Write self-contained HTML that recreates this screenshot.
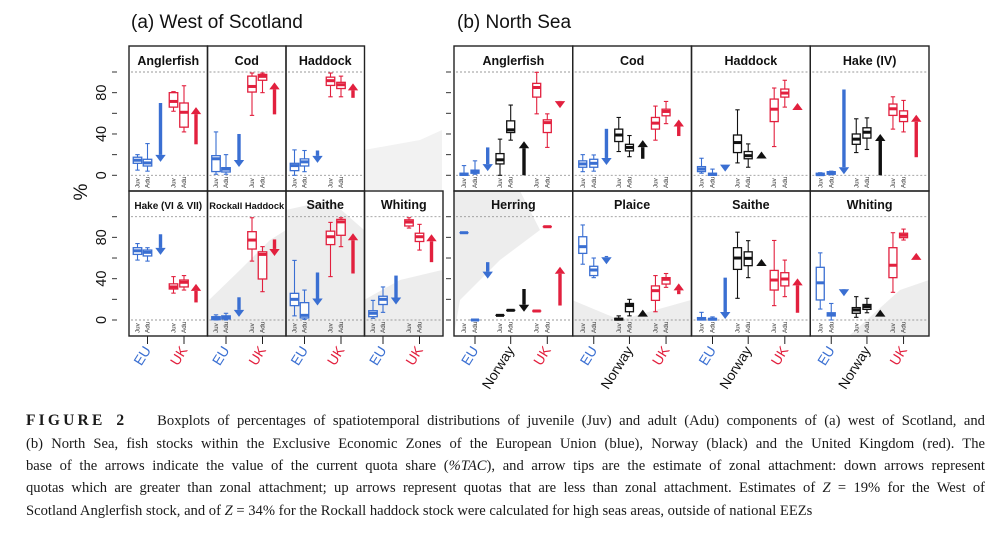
<!DOCTYPE html>
<html><head><meta charset="utf-8">
<style>
html,body{margin:0;padding:0;background:#fff;}
body{width:999px;height:535px;overflow:hidden;position:relative;font-family:"Liberation Sans",sans-serif;}
#fig{position:absolute;left:0;top:0;}
.cap{position:absolute;left:26px;width:959px;font-family:"Liberation Serif",serif;font-size:14.6px;color:#1a1a1a;white-space:nowrap;line-height:18px;}
.j{text-align:justify;text-align-last:justify;white-space:normal;}
.fig2{font-weight:bold;letter-spacing:3.2px;font-size:15.5px;}
</style></head>
<body>
<svg id="fig" width="999" height="400" viewBox="0 0 999 400" xmlns="http://www.w3.org/2000/svg">
<g id="bg" fill="#ededed">
<path d="M209 300 L240 270 L270 240 L286 230 L286 335 L209 335 Z"/>
<path d="M286 210 L330 200 L364 230 L364 335 L286 335 Z"/>
<path d="M364 300 L400 280 L442 270 L442 335 L364 335 Z"/>
<path d="M454 191 L520 191 L540 230 L500 260 L460 300 L454 335 Z"/>
<path d="M572 300 L620 320 L691 300 L691 335 L572 335 Z"/>
<path d="M850 335 L900 290 L929 280 L929 335 Z"/>
<path d="M364 150 L420 140 L442 130 L442 190 L364 190 Z" fill="#f2f2f2"/>
</g>
<g id="layer"></g>
<text x="131" y="28" font-size="19" fill="#111">(a) West of Scotland</text>
<text x="457" y="28" font-size="19" fill="#111">(b) North Sea</text>
<text transform="translate(87,192) rotate(-90)" text-anchor="middle" font-size="19" fill="#111">%</text>
</svg>

<div class="cap j" style="top:412px"><span class="fig2">FIGURE 2</span>&nbsp;&nbsp;&nbsp; Boxplots of percentages of spatiotemporal distributions of juvenile (Juv) and adult (Adu) components of (a) west of Scotland, and</div>
<div class="cap j" style="top:435px">(b) North Sea, fish stocks within the Exclusive Economic Zones of the European Union (blue), Norway (black) and the United Kingdom (red). The</div>
<div class="cap j" style="top:457px">base of the arrows indicate the value of the current quota share (<i>%TAC</i>), and arrow tips are the estimate of zonal attachment: down arrows represent</div>
<div class="cap j" style="top:479px">quotas which are greater than zonal attachment; up arrows represent quotas that are less than zonal attachment. Estimates of <i>Z</i> = 19% for the West of</div>
<div class="cap" style="top:502px">Scotland Anglerfish stock, and of <i>Z</i> = 34% for the Rockall haddock stock were calculated for high seas areas, outside of national EEZs</div>

<script>
// ---- data ----
const panelTitles = ["Anglerfish","Cod","Haddock","Hake (VI & VII)","Rockall Haddock","Saithe","Whiting",
  "Anglerfish","Cod","Haddock","Hake (IV)","Herring","Plaice","Saithe","Whiting"];
const panelRegion = ["wos","wos","wos","wos","wos","wos","wos","ns","ns","ns","ns","ns","ns","ns","ns"];
const wosCountries = ["EU","UK"];
const nsCountries = ["EU","Norway","UK"];
const stages = ["Juv","Adu"];
const whiskerLow = [
 [5,4,62,42],[1,1,58,80],[0,3.5,76,76],[58,57,26,29],[0,0,57,27.4],[4,0.6,42,71],[1.6,7.4,89,67.7],
 [0,1,0,34,59.5,27],[3.5,4,23,18,34,50],[2,0,12,7.8,27.8,66],[0,0.5,22,25,44.7,42],
 [84.5,0,4.5,9.4,8.7,90.3],[54,41,0,4,8,31.6],[0,0,21,41,13.9,22.6],[10.6,0,2.6,7,26.8,77.4]];
const q1 = [
 [11.6,9,66,46.6],[3.6,3.2,80.6,92],[4.5,9,87,84],[63.5,62,30,32],[0.3,1,68.7,39.7],[13.9,2,73,82],[3.2,15,91,76],
 [0,2,11,41.4,75.7,41.4],[7.8,7.8,32.7,23.6,44.7,57.6],[3.6,0,22,16,52,75.7],[0,1,30,36,58,52],
 [84.5,0,4.5,9.4,8.7,90.3],[64.5,43,0,8,19,34.8],[0,0,49,52.6,29,33],[19.4,3.9,6.5,10.3,41,79.7]];
const median = [
 [14.6,12,71.5,61],[16,6,86,95.8],[9.4,13,91.6,87.7],[67,65.5,32,36.5],[1.6,2.3,77.4,63.5],[20,4.5,80.6,95],[6.5,20,94.8,80.6],
 [1,3.5,15,44,85,51],[11,11.6,39,27,50.5,61.8],[6,1,31.7,19,64,79.6],[0.6,2.6,35,41.7,64.4,57],
 [84.5,0,4.5,9.4,8.7,90.3],[71,48.4,0.8,14,28.4,39.4],[1,0.8,60,59.7,38.7,39.7],[36,5.5,9.7,13,53,82]];
const q3 = [
 [17.5,15.5,80,70],[19,7.4,96,97.7],[11.6,15.9,95,90],[70,67.7,35,38.7],[3.2,4,85.5,66],[25.8,16.8,86,97.4],[9,23,97,84],
 [2,5,21,52.7,89,53.7],[14,15.5,44.7,30,56,64],[8.4,2,39,23,73.8,83.5],[2,3.5,40,46,69,62.4],
 [84.5,0,4.5,9.4,8.7,90.3],[80.6,52,1.6,16,33,41],[2.3,1.5,70,66,48,45.8],[51,7,12,15,70,84]];
const whiskerHigh = [
 [20,30.7,81,86.7],[42,20,99,99],[24.6,24,99,96],[74,70,42,43],[5,6.5,99,71],[57.7,29,94.5,99],[19,32,99,92.6],
 [9.4,14,35,68,99.7,59.5],[20,19.7,56,38.5,67,71.5],[16.5,6,63.4,30.4,84.5,92],[2.5,4,54.7,55.6,76,72.5],
 [84.5,0,4.5,9.4,8.7,90.3],[92,60,4,20,43,45],[7.4,3,85,76.8,77,58],[65,16,22.6,21,84.5,88]];
const arrowBase = [
 [70,30],[40,59],[24,75],[83,17],[22,78],[46,45],[43,56],
 [27,0,72],[45,16,38],[10,18,65],[83,0,17.5],[56,30,14],[62,6,25],[41,54,7],[30,6,61]];
const arrowTip = [
 [13,66],[8,90],[12,89],[63,35],[3,62],[14,84],[15,83],
 [4,33,65],[10,34,54],[3.6,23,70],[1,40,58.6],[40,8,51.6],[54,10,35.5],[1,59,40.3],[23,10,65]];
const yTicks = [0,20,40,60,80,100];
const yTickLabels = ["0","40","80"];

// ---- layout ----
const NS = "http://www.w3.org/2000/svg";
const layer = document.getElementById("layer");
const COL = {EU:"#3a6fd2",UK:"#e2203e",Norway:"#111"};
const rowTop = [46, 191], rowBot = [191, 336], rowZero = [175.3, 320];
const yPerUnit = 1.033;
function yScale(v,row){ return rowZero[row] - v*yPerUnit; }
function mk(tag, attrs, parent){ const e=document.createElementNS(NS,tag); for(const k in attrs) e.setAttribute(k,attrs[k]); (parent||layer).appendChild(e); return e; }

function panelGeom(i){
  if(panelRegion[i]==="wos"){
    const row = i<3?0:1, col = i<3?i:i-3;
    return {x0:129+col*78.5, w:78.5, row, box:[8.5,18.5,44.5,55], arr:[31.5,67], countries:wosCountries, bw:8.5};
  } else {
    const k=i-7, row=k<4?0:1, col=k%4;
    return {x0:454+col*118.75, w:118.75, row, box:[10,21,46,56.7,82.7,93.3], arr:[33.7,70,106], countries:nsCountries, bw:8};
  }
}

function drawArrow(g,x,base,tip,row,color){
  const yb=yScale(base,row), yt=yScale(tip,row);
  const dir = yt>yb?1:-1; // 1 = down
  const hl=7, hw=5.2;
  const yh = yt - dir*hl;
  if((yh-yb)*dir>0){
    const s=mk("line",{x1:x,y1:yb,x2:x,y2:yh,stroke:color,"stroke-width":3.4},g);
    
    
  }
  const h=mk("polygon",{points:`${x-hw},${yh} ${x+hw},${yh} ${x},${yt}`,fill:color},g);
  
  
}

for(let i=0;i<panelTitles.length;i++){
  const G=panelGeom(i);
  const g=mk("g",{});
  
  
  const y0=rowTop[G.row], y1=rowBot[G.row];
  // dotted reference lines
  [0,100].forEach(v=>{
    const l=mk("line",{x1:G.x0+2,x2:G.x0+G.w-2,y1:yScale(v,G.row),y2:yScale(v,G.row),stroke:"#9a9a9a","stroke-width":0.9,"stroke-dasharray":"2,2"},g);
    
    
  });
  // frame
  const fr=mk("rect",{x:G.x0,y:y0,width:G.w,height:y1-y0,fill:"none",stroke:"#222","stroke-width":1.4},g);
  
  
  // title
  const t=panelTitles[i];
  let fs=12.5; if(t==="Hake (VI & VII)") fs=10; if(t==="Rockall Haddock") fs=9.3;
  const tt=mk("text",{x:G.x0+G.w/2,y:(G.row===0?65:209),"text-anchor":"middle","font-size":fs,"font-weight":"bold",fill:"#111"},g);
  tt.textContent=t;
  
  
  // boxes
  for(let b=0;b<G.box.length;b++){
    const country=G.countries[Math.floor(b/2)], color=COL[country];
    const x=G.x0+G.box[b], hw=G.bw/2, row=G.row;
    const bg=mk("g",{},g);
    
    
    const lo=yScale(whiskerLow[i][b],row), a=yScale(q1[i][b],row), m=yScale(median[i][b],row), c=yScale(q3[i][b],row), hi=yScale(whiskerHigh[i][b],row);
    mk("line",{x1:x,x2:x,y1:hi,y2:c,stroke:color,"stroke-width":1.1},bg);
    mk("line",{x1:x,x2:x,y1:a,y2:lo,stroke:color,"stroke-width":1.1},bg);
    mk("line",{x1:x-2.2,x2:x+2.2,y1:hi,y2:hi,stroke:color,"stroke-width":1.1},bg);
    mk("line",{x1:x-2.2,x2:x+2.2,y1:lo,y2:lo,stroke:color,"stroke-width":1.1},bg);
    mk("rect",{x:x-hw,y:c,width:G.bw,height:Math.max(a-c,0.01),fill:"#fff","fill-opacity":0.85,stroke:color,"stroke-width":1.3},bg);
    mk("line",{x1:x-hw,x2:x+hw,y1:m,y2:m,stroke:color,"stroke-width":3},bg);
    const lb=mk("text",{transform:`translate(${x+2},${y1-3}) rotate(-90)`,"font-size":6.3,fill:"#333"},g);
    lb.textContent=stages[b%2];
    
    
  }
  // arrows
  for(let a=0;a<G.arr.length;a++){
    const country=G.countries[a];
    drawArrow(g,G.x0+G.arr[a],arrowBase[i][a],arrowTip[i][a],G.row,COL[country]);
  }
  // x axis for bottom row
  if(G.row===1){
    G.countries.forEach((cn,ci)=>{
      const x=G.x0+G.box[ci*2+1];
      const tk=mk("line",{x1:x,x2:x,y1:336,y2:344,stroke:"#222","stroke-width":1},g);
      
      
      const lab=mk("text",{transform:`translate(${x+4},${350}) rotate(-58)`,"text-anchor":"end","font-size":14,fill:COL[cn]},g);
      lab.textContent=cn;
      
      
    });
  }
}
// y axes
for(let row=0;row<2;row++){
  yTicks.forEach(v=>{
    const y=yScale(v,row);
    const t1=mk("line",{x1:112,x2:117,y1:y,y2:y,stroke:"#333","stroke-width":1});
    
    
    const t2=mk("line",{x1:446,x2:451,y1:y,y2:y,stroke:"#333","stroke-width":1});
    
    
  });
  yTickLabels.forEach(s=>{
    const y=yScale(+s,row);
    const lt=mk("text",{transform:`translate(106,${y}) rotate(-90)`,"text-anchor":"middle","font-size":14.5,fill:"#111"});
    lt.textContent=s;
    
    
  });
}
</script>
</body></html>
